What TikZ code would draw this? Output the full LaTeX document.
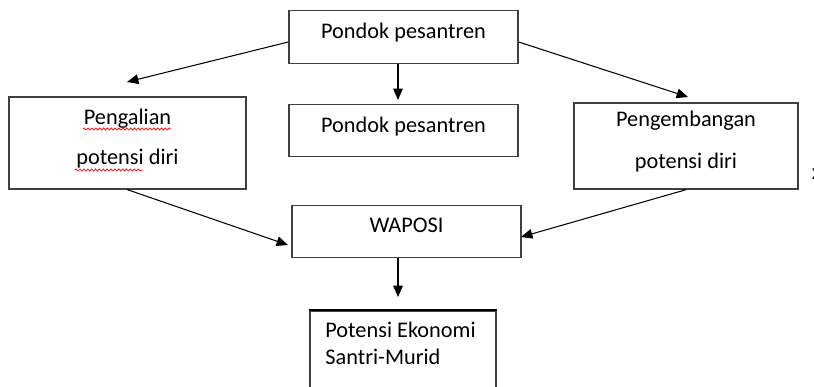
\documentclass[tikz,border=0pt]{standalone}
\usepackage{fontspec}
\setmainfont{Carlito}
\usetikzlibrary{arrows.meta,decorations.pathmorphing}

\tikzset{
  box/.style={draw=black!75, line width=0.8pt, minimum width=4.58cm, minimum height=1.05cm,
    font=\fontsize{12.7}{15.2}\selectfont, text depth=7pt, align=center},
  arr/.style={-{Triangle[length=6.5pt,width=5.5pt]}, line width=0.6pt},
  spellwave/.style={red, line width=0.4pt, decorate,
    decoration={snake, amplitude=0.6pt, segment length=2.2pt}},
}

\begin{document}
\begin{tikzpicture}
\useasboundingbox (0,0) rectangle (16.28,-7.74);
\clip (0,0) rectangle (16.28,-7.74);

% kotak
\node[box] (top) at (8.07,-0.74) {Pondok pesantren};
\node[box] (mid) at (8.07,-2.61) {Pondok pesantren};
\node[box, minimum width=4.74cm, minimum height=1.84cm] (gali) at (2.55,-2.86)
  {Pengalian\\[7.5pt]potensi diri};
\node[box, minimum width=4.48cm, minimum height=1.72cm] (kembang) at (13.72,-2.92)
  {Pengembangan\\[8.5pt]potensi diri};
\node[box] (waposi) at (8.13,-4.63) {WAPOSI};
\node[font=\fontsize{12.7}{15.2}\selectfont, align=left, anchor=north west, inner sep=0pt]
  (ekon) at (6.50,-6.44) {Potensi Ekonomi\\Santri-Murid};
\node[font=\fontsize{12.7}{15.2}\selectfont, anchor=west, inner sep=0pt] (tanda) at (16.23,-3.48) {x};

% garis merah ejaan
\draw[spellwave] (1.66,-2.58) -- (3.42,-2.58);
\draw[spellwave] (1.50,-3.40) -- (2.86,-3.40);

% kotak bawah terpotong
\draw[draw=black!75, line width=0.8pt] (6.20,-8) |- (9.92,-6.22) -- (9.92,-8);
\draw[line width=1.4pt] (6.18,-6.20) -- (9.94,-6.20);

% panah
\coordinate (tipGali) at (2.54,-1.64);
\coordinate (tipMid) at (7.96,-2.00);
\coordinate (tipKembang) at (13.76,-1.94);
\coordinate (tipWl) at (5.76,-4.90);
\coordinate (tipWr) at (10.42,-4.74);
\coordinate (tipEkon) at (7.96,-5.94);

\draw[arr] ([yshift=-0.1cm]top.west) -- (tipGali);
\draw[arr] (top.south -| tipMid) -- (tipMid);
\draw[arr] ([yshift=-0.1cm]top.east) -- (tipKembang);
\draw[arr] (gali.south) -- (tipWl);
\draw[arr] (kembang.south) -- (tipWr);
\draw[arr] (waposi.south -| tipEkon) -- (tipEkon);

\end{tikzpicture}
\end{document}
